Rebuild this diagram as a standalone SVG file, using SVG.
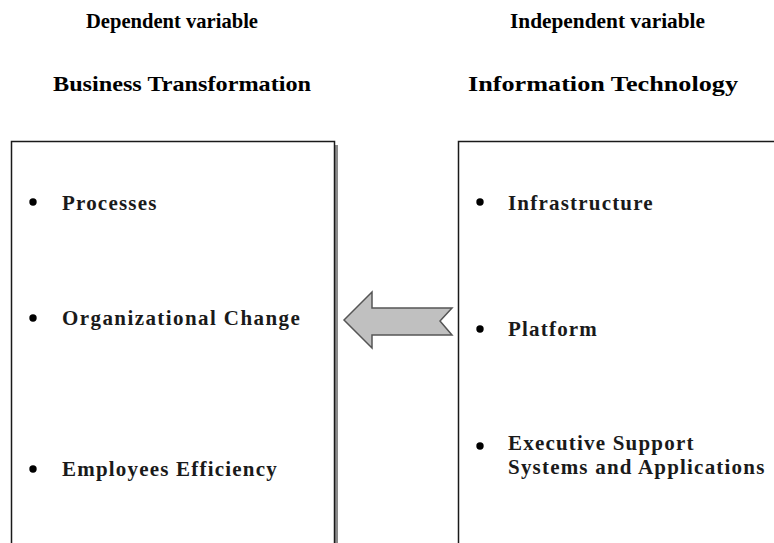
<svg xmlns="http://www.w3.org/2000/svg" width="774" height="543" viewBox="0 0 774 543">
  <style>
    .head { font-family: "Liberation Serif", "Times New Roman", serif; font-weight: bold; font-size: 22px; fill: #000; }
    .item { font-family: "Liberation Serif", "Times New Roman", serif; font-weight: bold; font-size: 21px; letter-spacing: 1.2px; fill: #1a1a1a; }
    .box { fill: #fff; stroke: #1a1a1a; stroke-width: 1.5; }
    .shadow { fill: #8a8a8a; }
    .dot { fill: #000; }
  </style>
  <rect width="774" height="543" fill="#fff"/>

  <!-- column headings -->
  <text class="head" x="86" y="28" textLength="172" lengthAdjust="spacingAndGlyphs">Dependent variable</text>
  <text class="head" x="53" y="91" textLength="258" lengthAdjust="spacingAndGlyphs">Business Transformation</text>
  <text class="head" x="510" y="28" textLength="195" lengthAdjust="spacingAndGlyphs">Independent variable</text>
  <text class="head" x="468" y="91" textLength="270" lengthAdjust="spacingAndGlyphs">Information Technology</text>

  <!-- dependent variable box -->
  <g id="business-transformation">
    <rect class="shadow" x="15" y="145" width="323" height="410"/>
    <rect class="box" x="11.5" y="141.5" width="323" height="410"/>
    <circle class="dot" cx="33" cy="202" r="3.7"/>
    <text class="item" x="62" y="210">Processes</text>
    <circle class="dot" cx="33" cy="318" r="3.7"/>
    <text class="item" x="62" y="325" textLength="239">Organizational Change</text>
    <circle class="dot" cx="33" cy="469" r="3.7"/>
    <text class="item" x="62" y="476">Employees Efficiency</text>
  </g>

  <!-- independent variable box -->
  <g id="information-technology">
    <rect class="shadow" x="462" y="145" width="330" height="410"/>
    <rect class="box" x="458.5" y="141.5" width="330" height="410"/>
    <circle class="dot" cx="480" cy="202" r="3.7"/>
    <text class="item" x="508" y="210">Infrastructure</text>
    <circle class="dot" cx="480" cy="329" r="3.7"/>
    <text class="item" x="508" y="336">Platform</text>
    <circle class="dot" cx="480" cy="446" r="3.7"/>
    <text class="item" x="508" y="450">Executive Support</text>
    <text class="item" x="508" y="474">Systems and Applications</text>
  </g>

  <!-- influence arrow -->
  <g id="connectors">
    <polygon points="344,320 372,292 372,308 452,308 440,321 452,335 372,335 372,348" fill="#c0c0c0" stroke="#555" stroke-width="1.5" stroke-linejoin="miter"/>
  </g>
</svg>
